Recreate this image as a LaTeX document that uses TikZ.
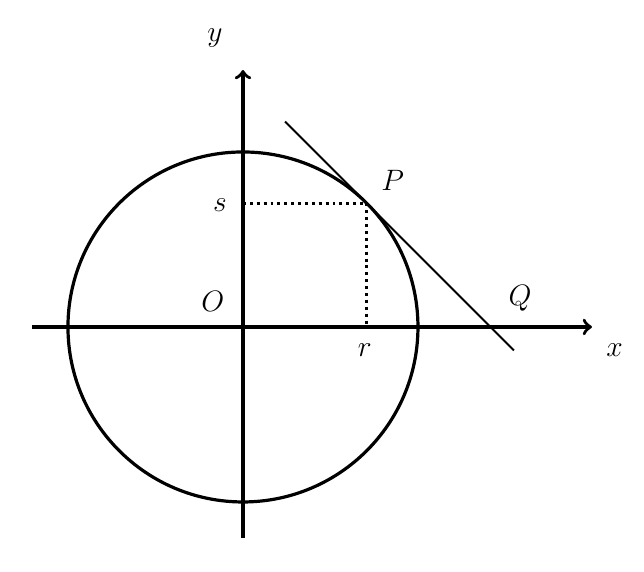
\documentclass[tikz,border=0pt]{standalone}
\usepackage{amssymb}
\usepackage{amsmath}
\usetikzlibrary{calc}
\begin{document}
\begin{tikzpicture}[font=\large]
        \useasboundingbox (-3.471,-3.5) rectangle (5.729,4.671);
        \coordinate (O) at (0,0);
        \coordinate (P) at (45:2.5);
        \coordinate (Q) at ({2.5*sqrt(2)},0);
        \coordinate (r) at (P |- O);
        \coordinate (s) at (P -| O);
        \coordinate (xl) at (-3.014,0);
        \coordinate (xr) at (4.986,0);
        \coordinate (yb) at (0,-3.014);
        \coordinate (yt) at (0,3.671);
        \coordinate (t1) at ($(P)!-0.66!(Q)$);
        \coordinate (t2) at ($(P)!1.19!(Q)$);
        \draw[line width=1.4pt,->] (xl) -- (xr);
        \draw[line width=1.4pt,->] (yb) -- (yt);
        \draw[line width=1.3pt] (O) circle (2.5);
        \draw[line width=0.8pt] (t1) -- (t2);
        \draw[line width=1.2pt,dash pattern=on 1.2pt off 1.6pt] (s) -- (P) -- (r);
        \node (ylab) at (-0.4,4.13) {$y$};
        \node (xlab) at (5.31,-0.33) {$x$};
        \node (Olab) at (-0.43,0.36) {$O$};
        \node (slab) at (-0.33,1.74) {$s$};
        \node (rlab) at (1.74,-0.33) {$r$};
        \node (Plab) at (2.14,2.1) {$P$};
        \node (Qlab) at (3.96,0.41) {$Q$};
    \end{tikzpicture}
\end{document}
